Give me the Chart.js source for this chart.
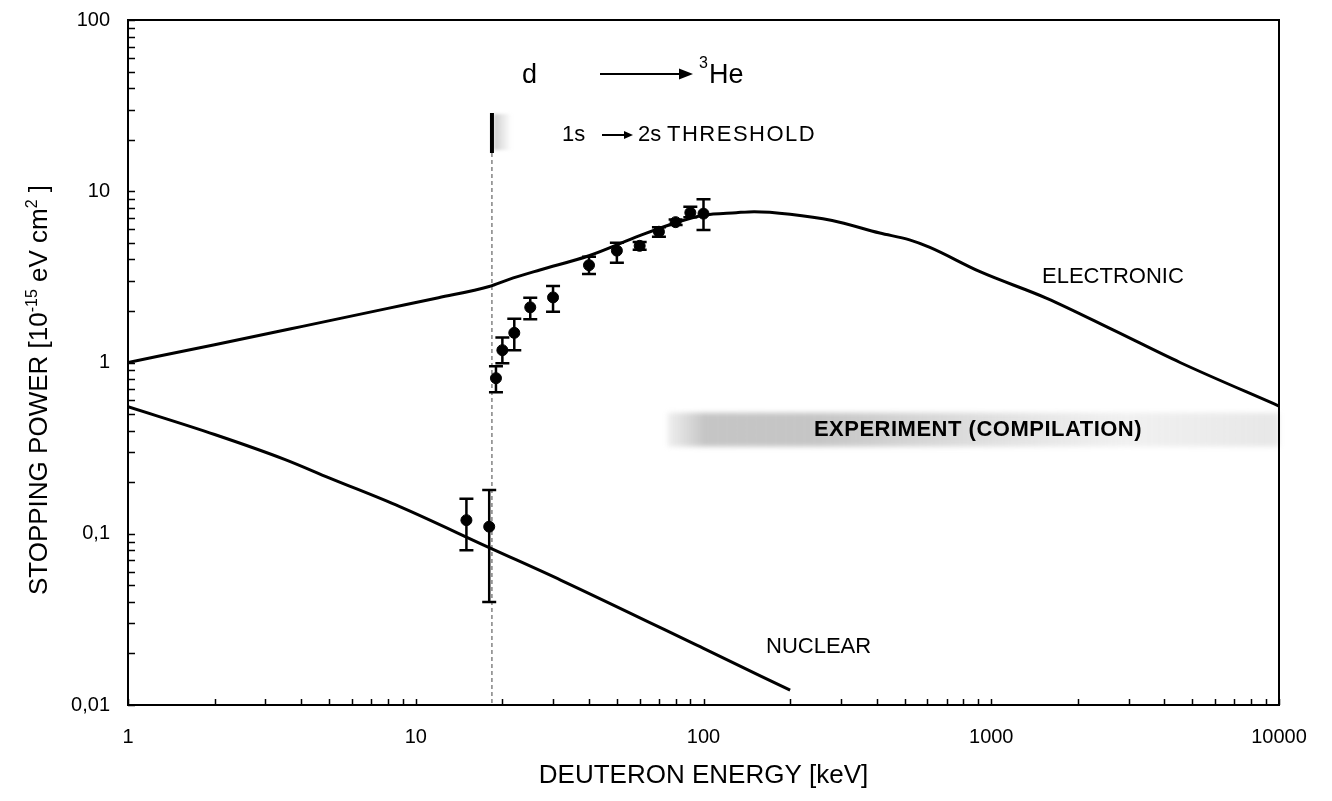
<!DOCTYPE html>
<html>
<head>
<meta charset="utf-8">
<title>Deuteron stopping power</title>
<script src="https://cdn.jsdelivr.net/npm/chart.js@4/dist/chart.umd.min.js"></script>
<style>
  html, body { margin: 0; padding: 0; background: #fff; }
  #wrap { width: 1332px; height: 801px; }
</style>
</head>
<body>
<div id="wrap"><canvas id="myChart"></canvas></div>
<script>
// energies in keV, stopping power in 10^-15 eV cm^2
const electronicE = [1, 2, 4, 8, 12, 18, 21, 27, 40, 60, 80, 100, 130, 150, 200, 280, 410, 520, 612, 914, 1560, 2650, 4530, 10000];
const electronicS = [1.0, 1.27, 1.62, 2.07, 2.39, 2.78, 3.05, 3.47, 4.2, 5.5, 6.55, 7.25, 7.5, 7.6, 7.35, 6.75, 5.7, 5.2, 4.7, 3.39, 2.37, 1.55, 1.0, 0.557];

const nuclearE = [1, 2, 3.5, 5, 8.8, 18, 32, 100, 200];
const nuclearS = [0.552, 0.38, 0.272, 0.212, 0.144, 0.083, 0.0535, 0.0214, 0.0122];

// measured points with error limits
const measElecE = [19, 20, 22, 25, 30, 40, 50, 60, 70, 80, 90, 100];
const measElecS = [0.81, 1.18, 1.49, 2.1, 2.4, 3.7, 4.5, 4.8, 5.8, 6.6, 7.5, 7.4];
const measElecLo = [0.67, 0.99, 1.18, 1.79, 1.98, 3.29, 3.83, 4.55, 5.43, 6.35, 7.05, 5.94];
const measElecHi = [0.95, 1.40, 1.80, 2.39, 2.80, 4.15, 5.0, 5.05, 6.16, 6.85, 8.13, 8.97];

const measNucE = [15, 18];
const measNucS = [0.12, 0.11];
const measNucLo = [0.08, 0.04];
const measNucHi = [0.16, 0.18];

const thresholdE = 18.4;          // 1s -> 2s threshold
const compilationE = [75, 10000]; // range of the experimental compilation
const compilationS = [0.31, 0.53];

const xTickValues = [1, 10, 100, 1000, 10000];
const xTickLabels = ['1', '10', '100', '1000', '10000'];
const yTickValues = [0.01, 0.1, 1, 10, 100];
const yTickLabels = ['0,01', '0,1', '1', '10', '100'];

const FONT = "'Liberation Sans', Arial, sans-serif";
Chart.defaults.font.family = FONT;
Chart.defaults.color = '#000';

function pairs(xs, ys) {
    return xs.map((v, i) => ({ x: v, y: ys[i] }));
}

// 1..9 x 10^n marks between two decades
function logTicks(minExp, maxExp) {
    const out = [];
    for (let e = minExp; e < maxExp; e++) {
        for (let m = 1; m <= 9; m++) {
            out.push({ value: Number((m * Math.pow(10, e)).toPrecision(6)) });
        }
    }
    out.push({ value: Math.pow(10, maxExp) });
    return out;
}

function labelFor(values, labels) {
    return function (value) {
        const i = values.findIndex(v => Math.abs(Math.log10(v) - Math.log10(value)) < 1e-6);
        return i >= 0 ? labels[i] : '';
    };
}

function arrow(ctx, x0, x1, y, head, half, width) {
    ctx.lineWidth = width;
    ctx.beginPath();
    ctx.moveTo(x0, y);
    ctx.lineTo(x1 - head + 1, y);
    ctx.stroke();
    ctx.beginPath();
    ctx.moveTo(x1, y);
    ctx.lineTo(x1 - head, y - half);
    ctx.lineTo(x1 - head, y + half);
    ctx.closePath();
    ctx.fill();
}

const errorBars = {
    id: 'errorBars',
    afterDatasetsDraw(chart) {
        const { ctx, scales: { x, y } } = chart;
        const sets = [
            [measElecE, measElecLo, measElecHi],
            [measNucE, measNucLo, measNucHi]
        ];
        ctx.save();
        ctx.strokeStyle = '#000';
        ctx.lineWidth = 2.5;
        sets.forEach(([es, lo, hi]) => {
            es.forEach((e, i) => {
                const px = x.getPixelForValue(e);
                const yl = y.getPixelForValue(lo[i]);
                const yh = y.getPixelForValue(hi[i]);
                ctx.beginPath();
                ctx.moveTo(px, yl); ctx.lineTo(px, yh);
                ctx.moveTo(px - 7, yl); ctx.lineTo(px + 7, yl);
                ctx.moveTo(px - 7, yh); ctx.lineTo(px + 7, yh);
                ctx.stroke();
            });
        });
        ctx.restore();
    }
};

const backdrop = {
    id: 'backdrop',
    beforeDatasetsDraw(chart) {
        const { ctx, chartArea: a, scales: { x, y } } = chart;
        ctx.save();

        // shaded band of the experimental compilation
        const bx0 = x.getPixelForValue(compilationE[0]);
        const bx1 = x.getPixelForValue(compilationE[1]);
        const by0 = y.getPixelForValue(compilationS[1]);
        const by1 = y.getPixelForValue(compilationS[0]);
        const g = ctx.createLinearGradient(bx0, 0, bx1, 0);
        g.addColorStop(0, 'rgba(150,150,150,0.15)');
        g.addColorStop(0.06, 'rgba(140,140,140,0.5)');
        g.addColorStop(0.25, 'rgba(150,150,150,0.55)');
        g.addColorStop(0.5, 'rgba(170,170,170,0.4)');
        g.addColorStop(0.75, 'rgba(190,190,190,0.22)');
        g.addColorStop(1, 'rgba(180,180,180,0.32)');
        ctx.filter = 'blur(2.5px)';
        ctx.fillStyle = g;
        ctx.fillRect(bx0, by0 + 3, bx1 - bx0, by1 - by0 - 6);
        ctx.filter = 'none';

        // threshold marker
        const tx = x.getPixelForValue(thresholdE);
        ctx.strokeStyle = '#444';
        ctx.lineWidth = 1;
        ctx.setLineDash([4, 3]);
        ctx.beginPath();
        ctx.moveTo(tx, 153);
        ctx.lineTo(tx, a.bottom);
        ctx.stroke();
        ctx.setLineDash([]);

        const sg = ctx.createLinearGradient(tx, 0, tx + 20, 0);
        sg.addColorStop(0, 'rgba(120,120,120,0.45)');
        sg.addColorStop(1, 'rgba(160,160,160,0)');
        ctx.filter = 'blur(1.5px)';
        ctx.fillStyle = sg;
        ctx.fillRect(tx + 2, 114, 18, 36);
        ctx.filter = 'none';

        ctx.strokeStyle = '#000';
        ctx.lineWidth = 4;
        ctx.beginPath();
        ctx.moveTo(tx, 113);
        ctx.lineTo(tx, 153);
        ctx.stroke();
        ctx.restore();
    }
};

const annotations = {
    id: 'annotations',
    afterDraw(chart) {
        const { ctx, chartArea: a, scales: { x, y } } = chart;
        ctx.save();
        ctx.fillStyle = '#000';
        ctx.strokeStyle = '#000';

        // frame and inward tick marks
        ctx.lineWidth = 1.5;
        ctx.beginPath();
        x.ticks.forEach(t => {
            const px = Math.round(x.getPixelForValue(t.value)) + 0.5;
            ctx.moveTo(px, a.bottom);
            ctx.lineTo(px, a.bottom - 6);
        });
        y.ticks.forEach(t => {
            const py = Math.round(y.getPixelForValue(t.value)) + 0.5;
            ctx.moveTo(a.left, py);
            ctx.lineTo(a.left + 7, py);
        });
        ctx.stroke();
        ctx.lineWidth = 2;
        ctx.strokeRect(a.left, a.top, a.right - a.left, a.bottom - a.top);

        // y axis title with superscripts
        const parts = [
            ['STOPPING POWER [10', 26, 0],
            ['-15', 16, 10],
            [' eV cm', 26, 0],
            ['2', 16, 10],
            [' ]', 26, 0]
        ];
        let total = 0;
        parts.forEach(p => { ctx.font = p[1] + 'px ' + FONT; total += ctx.measureText(p[0]).width; });
        ctx.translate(47, 390);
        ctx.rotate(-Math.PI / 2);
        ctx.textBaseline = 'alphabetic';
        let cx = -total / 2;
        parts.forEach(p => {
            ctx.font = p[1] + 'px ' + FONT;
            ctx.fillText(p[0], cx, -p[2]);
            cx += ctx.measureText(p[0]).width;
        });
        ctx.setTransform(1, 0, 0, 1, 0, 0);

        // reaction and threshold labels
        ctx.textBaseline = 'alphabetic';
        ctx.textAlign = 'left';
        ctx.font = '27px ' + FONT;
        ctx.fillText('d', 522, 83);
        arrow(ctx, 600, 693, 74, 14, 5.5, 2);
        ctx.font = '16px ' + FONT;
        ctx.fillText('3', 699, 68);
        ctx.font = '27px ' + FONT;
        ctx.fillText('He', 709, 83);

        ctx.font = '22px ' + FONT;
        ctx.fillText('1s', 562, 141);
        arrow(ctx, 602, 633, 135, 9, 4, 2);
        ctx.fillText('2s', 638, 141);
        ctx.letterSpacing = '1.5px';
        ctx.fillText('THRESHOLD', 667, 141);
        ctx.letterSpacing = '0px';

        ctx.fillText('ELECTRONIC', 1042, 283);
        ctx.fillText('NUCLEAR', 766, 653);

        ctx.font = 'bold 22px ' + FONT;
        ctx.textAlign = 'center';
        ctx.letterSpacing = '0.5px';
        ctx.fillText('EXPERIMENT (COMPILATION)', 978, 436);
        ctx.restore();
    }
};

const ctx = document.getElementById('myChart');
new Chart(ctx, {
    type: 'scatter',
    data: {
        datasets: [
            {
                label: 'Electronic',
                data: pairs(electronicE, electronicS),
                showLine: true,
                borderColor: '#000',
                borderWidth: 3,
                pointRadius: 0,
                cubicInterpolationMode: 'monotone'
            },
            {
                label: 'Nuclear',
                data: pairs(nuclearE, nuclearS),
                showLine: true,
                borderColor: '#000',
                borderWidth: 3,
                pointRadius: 0,
                cubicInterpolationMode: 'monotone'
            },
            {
                label: 'Experiment electronic',
                data: pairs(measElecE, measElecS),
                pointRadius: 5.5,
                backgroundColor: '#000',
                borderColor: '#000'
            },
            {
                label: 'Experiment nuclear',
                data: pairs(measNucE, measNucS),
                pointRadius: 5.5,
                backgroundColor: '#000',
                borderColor: '#000'
            }
        ]
    },
    options: {
        responsive: true,
        maintainAspectRatio: false,
        animation: false,
        events: [],
        layout: { padding: { top: 20, right: 53, left: 0, bottom: 0 } },
        plugins: {
            legend: { display: false },
            tooltip: { enabled: false }
        },
        scales: {
            x: {
                type: 'logarithmic',
                min: 1,
                max: 10000,
                grid: { display: false, drawTicks: false },
                border: { display: false },
                afterBuildTicks: s => { s.ticks = logTicks(0, 4); },
                afterFit: s => { s.height = 96; s.paddingLeft = 0; s.paddingRight = 0; },
                ticks: {
                    autoSkip: false,
                    maxRotation: 0,
                    padding: 20,
                    font: { size: 20 },
                    callback: labelFor(xTickValues, xTickLabels)
                },
                title: {
                    display: true,
                    text: 'DEUTERON ENERGY [keV]',
                    font: { size: 26 },
                    padding: { top: 0, bottom: 10 }
                }
            },
            y: {
                type: 'logarithmic',
                min: 0.01,
                max: 100,
                grid: { display: false, drawTicks: false },
                border: { display: false },
                afterBuildTicks: s => { s.ticks = logTicks(-2, 2); },
                afterFit: s => { s.width = 128; s.paddingTop = 0; s.paddingBottom = 0; },
                ticks: {
                    autoSkip: false,
                    padding: 18,
                    font: { size: 20 },
                    callback: labelFor(yTickValues, yTickLabels)
                }
            }
        }
    },
    plugins: [backdrop, errorBars, annotations]
});
</script>
</body>
</html>
